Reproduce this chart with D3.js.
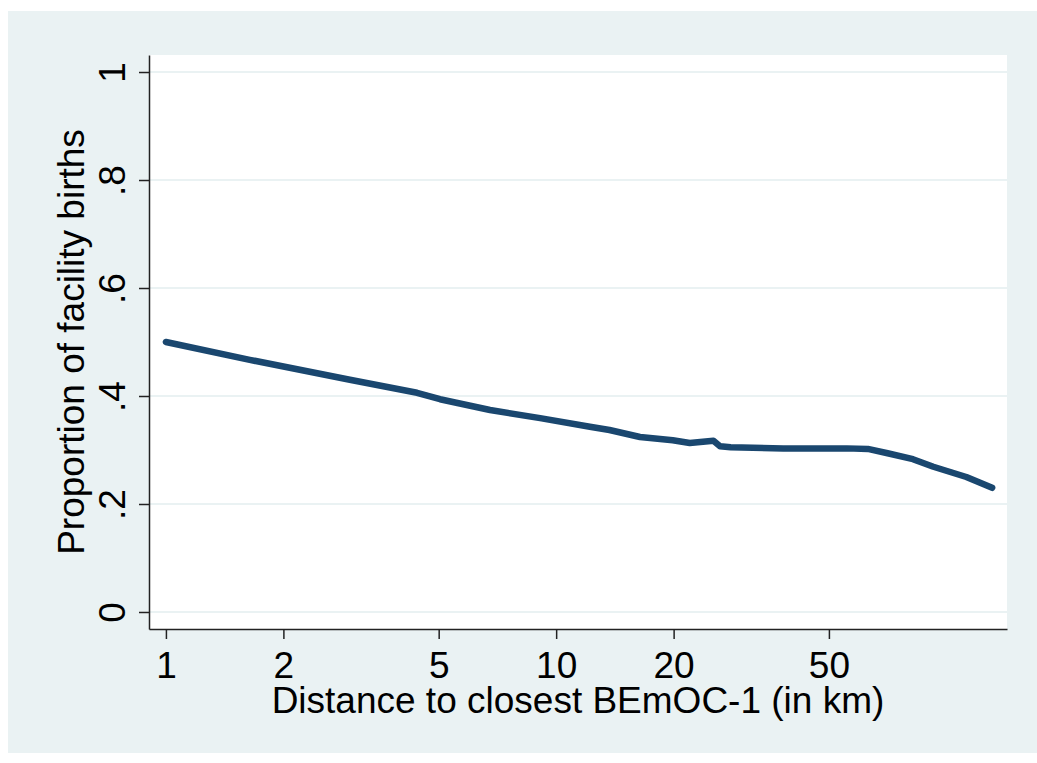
<!DOCTYPE html>
<head>
  <meta charset="utf-8">
  <script src="https://d3js.org/d3.v7.min.js"></script>
  <style>
    body { margin: 0; background: #fff; }
    text { font-family: "Liberation Sans", Arial, sans-serif; fill: #000; }
    .axis path { stroke: #222; stroke-width: 1.5; }
    .axis line { stroke: #222; stroke-width: 1.5; }
  </style>
</head>
<body>
  <script>
    // lowess-ish smoothed curve
    var distance = [1, 1.64, 2.96, 4.4, 5.04, 6.77, 9.1, 12.2, 13.7, 16.4, 19.9, 22, 25.3, 26.3, 28, 38.2, 55.6, 62.9, 70.7, 82.1, 92.6, 112.5, 131];
    var proportion = [0.50, 0.467, 0.430, 0.406, 0.394, 0.374, 0.359, 0.343, 0.337, 0.324, 0.318, 0.313, 0.317, 0.307, 0.305, 0.303, 0.303, 0.302, 0.294, 0.283, 0.269, 0.25, 0.230];
    var xTicks = [1, 2, 5, 10, 20, 50];
    var yTicks = [0, 0.2, 0.4, 0.6, 0.8, 1];
    var xTitle = "Distance to closest BEmOC-1 (in km)";
    var yTitle = "Proportion of facility births";

    var W = 1037, H = 763;
    var margin = {top: 55, right: 30, bottom: 134, left: 149};
    var fontSize = "37px";

    var svg = d3.select("body").append("svg")
        .attr("width", W)
        .attr("height", H);

    // graph region background
    svg.append("rect")
        .attr("x", 8).attr("y", 11)
        .attr("width", W - 8).attr("height", 742)
        .attr("fill", "#eaf2f3");

    var x = d3.scaleLog()
        .domain([0.905, 143])
        .range([margin.left, W - margin.right]);

    var y = d3.scaleLinear()
        .domain([-0.0315, 1.0315])
        .range([H - margin.bottom, margin.top]);

    // plot region
    svg.append("rect")
        .attr("x", margin.left).attr("y", margin.top)
        .attr("width", W - margin.right - margin.left)
        .attr("height", H - margin.bottom - margin.top)
        .attr("fill", "#fff");

    // gridlines
    svg.selectAll(".grid")
        .data(yTicks)
      .enter().append("line")
        .attr("class", "grid")
        .attr("x1", margin.left).attr("x2", W - margin.right)
        .attr("y1", function(d) { return y(d); })
        .attr("y2", function(d) { return y(d); })
        .attr("stroke", "#eaf2f3")
        .attr("stroke-width", 2);

    var fmt = function(d) {
      if (d === 0 || d === 1) return String(d);
      return d3.format(".1f")(d).replace(/^0/, "");
    };

    var xAxis = svg.append("g")
        .attr("class", "axis")
        .attr("transform", "translate(0," + (H - margin.bottom) + ")")
        .call(d3.axisBottom(x).tickValues(xTicks).tickFormat(d3.format("d"))
          .tickSize(10).tickSizeOuter(0));
    xAxis.selectAll("text")
        .attr("y", 0).attr("dy", null)
        .attr("transform", "translate(0,49)")
        .style("font-size", fontSize);

    var yAxis = svg.append("g")
        .attr("class", "axis")
        .attr("transform", "translate(" + margin.left + ",0)")
        .call(d3.axisLeft(y).tickValues(yTicks).tickFormat(fmt)
          .tickSize(10).tickSizeOuter(0));
    yAxis.selectAll("text")
        .attr("x", 0).attr("dy", null)
        .attr("text-anchor", "middle")
        .attr("transform", "translate(-24,0) rotate(-90)")
        .style("font-size", fontSize);

    svg.append("text")
        .attr("x", (margin.left + W - margin.right) / 2)
        .attr("y", 713)
        .attr("text-anchor", "middle")
        .style("font-size", fontSize)
        .text(xTitle);

    svg.append("text")
        .attr("transform", "translate(84," + ((margin.top + H - margin.bottom) / 2) + ") rotate(-90)")
        .attr("text-anchor", "middle")
        .style("font-size", fontSize)
        .text(yTitle);

    var pts = distance.map(function(d, i) { return [d, proportion[i]]; });

    var line = d3.line()
        .x(function(d) { return x(d[0]); })
        .y(function(d) { return y(d[1]); });

    svg.append("path")
        .datum(pts)
        .attr("d", line)
        .attr("fill", "none")
        .attr("stroke", "#1a476f")
        .attr("stroke-width", 6.5)
        .attr("stroke-linecap", "round")
        .attr("stroke-linejoin", "round");
  </script>
</body>
